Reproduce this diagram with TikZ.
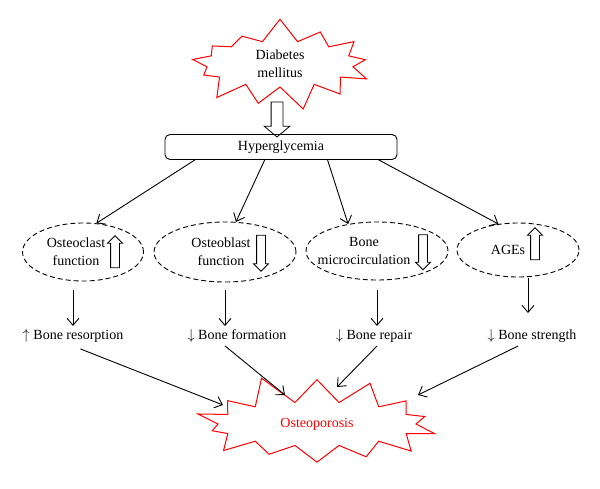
\documentclass[tikz,border=0pt]{standalone}
\usepackage{fontspec}
\setmainfont{Liberation Serif}
\usetikzlibrary{shapes.symbols,shapes.arrows,shapes.geometric,arrows.meta,calc}

\tikzset{
	burst/.style={starburst, draw=red, line width=1pt, inner sep=0pt, align=center},
	factor/.style={ellipse, draw, dash pattern=on 5pt off 3pt, line width=0.9pt, minimum width=121pt, minimum height=58pt, inner sep=0pt},
	hollowup/.style={single arrow, draw, line width=0.8pt, shape border rotate=90, minimum height=32pt, inner sep=4pt, single arrow head extend=3pt},
	hollowdown/.style={hollowup, shape border rotate=270},
	link/.style={line width=0.9pt, -{Straight Barb[length=7pt,width=12pt]}},
}

\begin{document}
\begin{tikzpicture}[x=1pt,y=-1pt,font=\fontsize{14}{18}\selectfont]
	\useasboundingbox (0,0) rectangle (600,488);
	
	% cause
	\node[burst, minimum width=195pt, minimum height=94pt, starburst points=13, starburst point height=24pt, random starburst=7] (dm) at (280,64) {Diabetes\\mellitus};
	\node[draw, rounded corners=5pt, line width=0.9pt, minimum width=232pt, minimum height=25pt, inner sep=0pt] (hyper) at (281,147) {Hyperglycemia};
	\node[hollowdown, minimum height=35pt, inner sep=5.5pt, single arrow head extend=7pt, single arrow tip angle=100] (big) at (277,117) {};
	
	% mechanisms
	\node[factor] (clast) at (83,252) {};
	\node[align=center] (clasttext) at (76,252) {Osteoclast\\function};
	\node[hollowup] (clastarr) at (115,254) {};
	
	\node[factor, minimum width=142pt, minimum height=60pt] (blast) at (225,252) {};
	\node[align=center] (blasttext) at (221,252) {Osteoblast\\function};
	\node[hollowdown, minimum height=36pt] (blastarr) at (261,251) {};
	
	\node[factor, minimum width=142pt] (micro) at (377,251) {};
	\node[align=center] (microtext) at (364,251) {Bone\\microcirculation};
	\node[hollowdown, minimum height=35pt] (microarr) at (423,250) {};
	
	\node[factor, minimum width=122pt, minimum height=54pt] (ages) at (518,250) {};
	\node (agestext) at (508,250) {AGEs};
	\node[hollowup] (agesarr) at (535,246) {};
	
	\draw[link] ($(hyper.south west)!0.13!(hyper.south east)$) -- (clast.65);
	\draw[link] ($(hyper.south west)!0.43!(hyper.south east)$) -- (blast.70);
	\draw[link] ($(hyper.south west)!0.70!(hyper.south east)$) -- (micro.137);
	\draw[link] ($(hyper.south west)!0.92!(hyper.south east)$) -- (ages.127);
	
	% effects
	\node (resorb) at (73,336) {$\uparrow$ Bone resorption};
	\node (form) at (237,336) {$\downarrow$ Bone formation};
	\node (repair) at (374,336) {$\downarrow$ Bone repair};
	\node (strength) at (532,336) {$\downarrow$ Bone strength};
	
	\coordinate (c1) at (73,290);
	\coordinate (c2) at (225,290);
	\coordinate (c3) at (377,290);
	\coordinate (c4) at (528,278);
	\draw[link] (c1) -- (c1 |- resorb.north);
	\draw[link] (c2) -- (c2 |- form.north);
	\draw[link] (c3) -- (c3 |- repair.north);
	\draw[link] (c4) -- ++(0,35);
	
	% outcome
	\node[burst, minimum width=258pt, minimum height=104pt, starburst points=14, starburst point height=30pt, random starburst=11, text=red] (op) at (317,424) {Osteoporosis};
	
	\coordinate (o1) at (223,405);
	\coordinate (o2) at (285,395);
	\coordinate (o3) at (337,387);
	\coordinate (o4) at (418,395);
	\draw[link, shorten <=8pt] (resorb.south) -- (o1);
	\draw[link] ([xshift=-12pt]form.south) -- (o2);
	\draw[link] ([xshift=3pt]repair.south) -- (o3);
	\draw[link] ([xshift=-14pt]strength.south) -- (o4);
	
\end{tikzpicture}
\end{document}
